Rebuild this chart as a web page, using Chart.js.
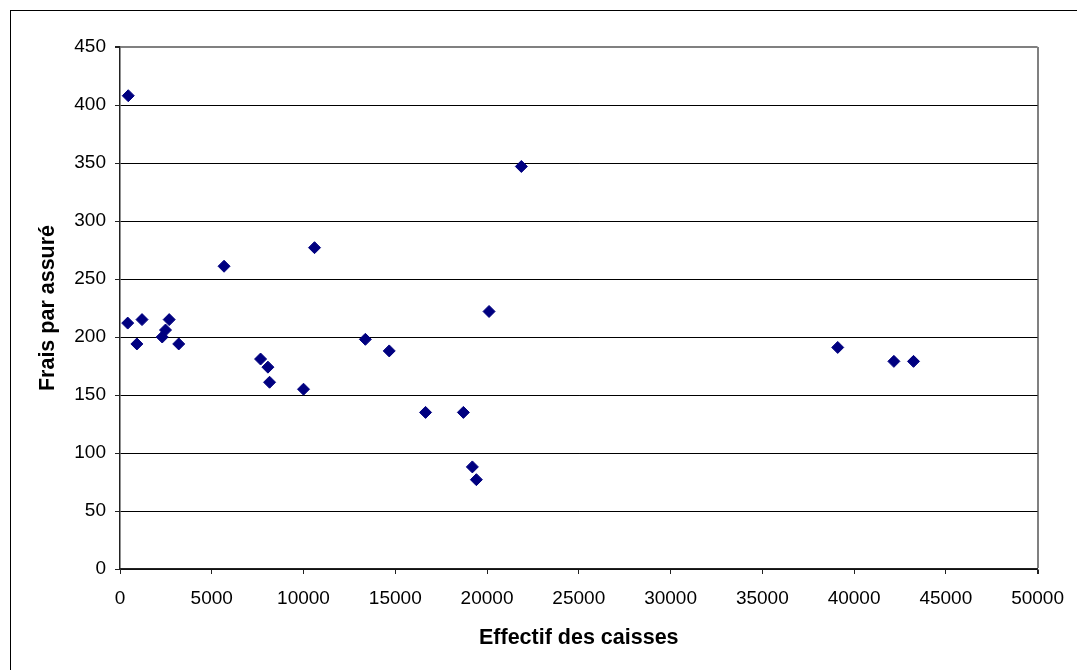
<!DOCTYPE html>
<html>
<head>
<meta charset="utf-8">
<script src="https://cdn.jsdelivr.net/npm/chart.js@4/dist/chart.umd.min.js"></script>
<style>
  html, body { margin: 0; padding: 0; background: #fff; overflow: hidden; }
  #wrap { position: relative; width: 1077px; height: 670px; }
  /* cadre extérieur du graphique */
  #cadre { position: absolute; left: 10px; top: 10px; width: 1100px; height: 700px;
           border-left: 1px solid #000; border-top: 1px solid #000; pointer-events: none; }
</style>
</head>
<body>
<div id="wrap">
  <canvas id="myChart"></canvas>
  <div id="cadre"></div>
</div>
<script>
// Effectif des caisses (x) et frais par assuré (y), caisse par caisse
const effectif = [450, 420, 920, 1200, 2300, 2480, 2680, 3200, 5670, 7660, 8060, 8150, 10000, 10600,
  13370, 14670, 16650, 18710, 19200, 19420, 20110, 21870, 39110, 42170, 43240];
const frais = [408, 212, 194, 215, 200, 206, 215, 194, 261, 181, 174, 161, 155, 277,
  198, 188, 135, 135, 88, 77, 222, 347, 191, 179, 179];

const xMax = 50000;
const yMax = 450;

const points = effectif.map((v, i) => ({ x: v, y: frais[i] }));

const police = 'Liberation Sans, Arial, sans-serif';

const ctx = document.getElementById('myChart').getContext('2d');
const myChart = new Chart(ctx, {
  type: 'scatter',
  data: {
    datasets: [{
      label: 'Frais par assuré',
      data: points,
      pointStyle: 'rectRot',
      pointRadius: 6,
      pointHoverRadius: 6,
      backgroundColor: '#000080',
      borderColor: '#000080',
      borderWidth: 1
    }]
  },
  options: {
    responsive: true,
    maintainAspectRatio: false,
    animation: false,
    layout: { padding: { left: 0, top: 47, right: 37, bottom: 0 } },
    plugins: {
      legend: { display: false },
      tooltip: { enabled: false }
    },
    scales: {
      x: {
        type: 'linear',
        min: 0,
        max: xMax,
        afterFit: (scale) => { scale.height = 101; },
        ticks: {
          stepSize: 5000,
          color: '#000',
          padding: 13,
          maxRotation: 0,
          font: { family: police, size: 19 },
          callback: (v) => String(v)   // pas de séparateur de milliers
        },
        grid: {
          // seule la bordure droite de la zone de tracé est visible
          color: (c) => c.index === 10 ? '#808080' : 'rgba(0,0,0,0)',
          lineWidth: (c) => c.index === 10 ? 2 : 1,
          tickColor: '#222',
          tickLength: 5
        },
        border: { color: '#222', width: 1.5 },
        title: {
          display: true,
          text: 'Effectif des caisses',
          color: '#000',
          font: { family: police, size: 21.5, weight: 'bold' },
          padding: { top: 0, bottom: 19 }
        }
      },
      y: {
        min: 0,
        max: yMax,
        afterFit: (scale) => { scale.width = 120; },
        ticks: {
          stepSize: 50,
          color: '#000',
          padding: 9,
          font: { family: police, size: 19 }
        },
        grid: {
          color: (c) => c.index === 9 ? '#808080' : '#000',
          lineWidth: (c) => c.index === 9 ? 2 : 1,
          tickColor: '#222',
          tickLength: 5
        },
        border: { color: '#222', width: 1.5 },
        title: {
          display: true,
          text: 'Frais par assuré',
          color: '#000',
          font: { family: police, size: 21.5, weight: 'bold' },
          padding: { top: 35, bottom: 0 }
        }
      }
    }
  }
});
</script>
</body>
</html>
